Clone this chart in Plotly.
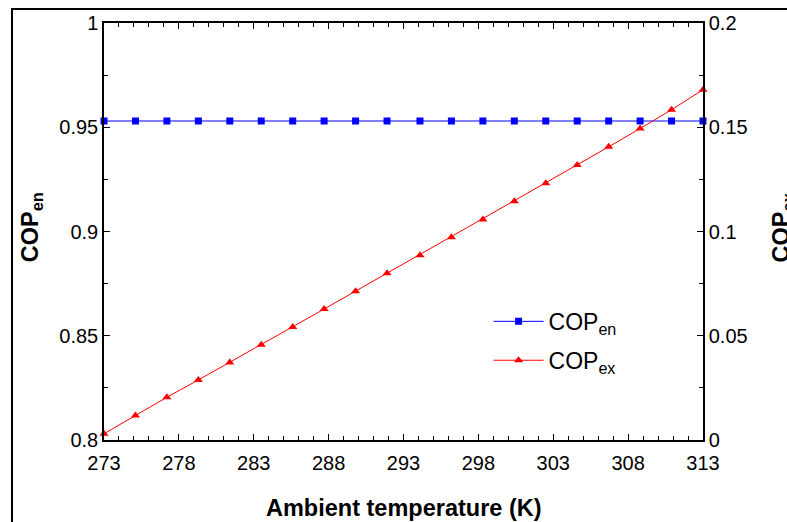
import plotly.graph_objects as go

temperature = [273.0, 275.1, 277.2, 279.3, 281.4, 283.5, 285.6, 287.7, 289.8, 291.9,
               294.1, 296.2, 298.3, 300.4, 302.5, 304.6, 306.7, 308.8, 310.9, 313.0]
cop_en = [0.953] * 20
cop_ex = [0.003, 0.0118, 0.0205, 0.0288, 0.0372, 0.0457, 0.0542, 0.0628, 0.0714, 0.0800,
          0.0886, 0.0972, 0.1058, 0.1145, 0.1232, 0.1319, 0.1406, 0.1494, 0.1584, 0.1680]

FONT = "Arial, Liberation Sans, sans-serif"

fig = go.Figure()
fig.add_trace(go.Scatter(
    x=temperature, y=cop_en, mode="lines+markers", name="COP<sub>en</sub>",
    line=dict(color="#0000ff", width=1), marker=dict(symbol="square", size=7, color="#0000ff"),
    legendgroup="a", cliponaxis=False, yaxis="y"))
fig.add_trace(go.Scatter(
    x=temperature, y=cop_ex, mode="lines+markers", name="COP<sub>ex</sub>",
    line=dict(color="#ff0000", width=1), marker=dict(symbol="triangle-up", size=8, color="#ff0000"),
    legendgroup="b", cliponaxis=False, yaxis="y2"))

axis_common = dict(showgrid=False, zeroline=False, showline=True, linecolor="black", linewidth=1.5,
                   ticks="inside", ticklen=6, tickwidth=1, tickcolor="black",
                   tickfont=dict(family=FONT, size=20, color="black"))

fig.update_layout(
    width=787, height=522, margin=dict(l=104, r=84, t=20, b=82),
    paper_bgcolor="white", plot_bgcolor="white", showlegend=True,
    xaxis=dict(range=[273, 313], tickvals=[273, 278, 283, 288, 293, 298, 303, 308, 313],
               mirror="ticks", ticklabelstandoff=4,
               minor=dict(dtick=1, tick0=273, ticks="inside", ticklen=4, tickcolor="black"),
               **axis_common),
    yaxis=dict(range=[0.8, 1.0], tickvals=[0.8, 0.85, 0.9, 0.95, 1.0], ticktext=["0.8", "0.85", "0.9", "0.95", "1"],
               minor=dict(dtick=0.025, tick0=0.8, ticks="inside", ticklen=4, tickcolor="black"),
               **axis_common),
    yaxis2=dict(range=[0, 0.2], overlaying="y", side="right",
                tickvals=[0, 0.05, 0.1, 0.15, 0.2], ticktext=["0", "0.05", "0.1", "0.15", "0.2"],
                minor=dict(dtick=0.025, tick0=0, ticks="inside", ticklen=4, tickcolor="black"),
                **axis_common),
    legend=dict(x=0.642, y=0.336, xanchor="left", yanchor="top", bgcolor="rgba(0,0,0,0)",
                font=dict(family=FONT, size=23, color="black"), itemwidth=50, tracegroupgap=6),
    annotations=[
        dict(text="<b>Ambient temperature (K)</b>", xref="paper", yref="paper", x=0.5, y=-0.162,
             xanchor="center", yanchor="middle", showarrow=False, font=dict(family=FONT, size=23.5, color="black")),
        dict(text="<b>COP<sub>en</sub></b>", xref="paper", yref="paper", x=-0.122, y=0.51, textangle=-90,
             xanchor="center", yanchor="middle", showarrow=False, font=dict(family=FONT, size=23.5, color="black")),
        dict(text="<b>COP<sub>ex</sub></b>", xref="paper", yref="paper", x=1.132, y=0.51, textangle=-90,
             xanchor="center", yanchor="middle", showarrow=False, font=dict(family=FONT, size=23.5, color="black")),
    ],
    shapes=[dict(type="rect", xref="paper", yref="paper", x0=-0.1536, x1=1.16, y0=-0.21, y1=1.0333,
                 line=dict(color="black", width=2), fillcolor="rgba(0,0,0,0)", layer="below")],
)

fig.write_html("out.html")
